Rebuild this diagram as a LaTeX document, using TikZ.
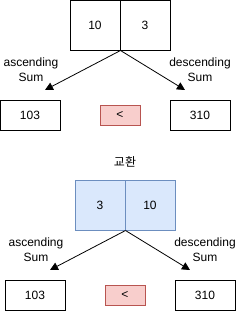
\documentclass[tikz,border=0pt]{standalone}
\usepackage{fontspec}
\setmainfont{Liberation Sans}
\newfontfamily\kofont{Noto Sans CJK KR}
\usetikzlibrary{arrows.meta}
\definecolor{boxblue}{HTML}{DAE8FC}
\definecolor{edgeblue}{HTML}{6C8EBF}
\definecolor{boxred}{HTML}{F8CECC}
\definecolor{edgered}{HTML}{B85450}
\tikzset{
  cell/.style={draw, line width=0.75pt, minimum width=37.5pt, minimum height=37.5pt, inner sep=0pt, font=\small},
  bluecell/.style={cell, fill=boxblue, draw=edgeblue},
  sumbox/.style={draw, line width=0.75pt, minimum width=45pt, minimum height=22.5pt, inner sep=0pt, font=\small},
  cmpbox/.style={draw=edgered, fill=boxred, line width=0.75pt, minimum width=30pt, minimum height=15pt, inner sep=0pt, font=\small},
  lbl/.style={align=center, font=\small, inner sep=0pt},
  arr/.style={-{Triangle[length=6pt,width=6pt]}, line width=0.6pt},
}
\begin{document}
\begin{tikzpicture}[x=0.75pt, y=-0.75pt]
  \useasboundingbox (0,0) rectangle (237,311);
  % before swap
  \node[cell] (left) at (95,25) {10};
  \node[cell] (right) at (145,25) {3};
  \coordinate (ascTip) at (45,90);
  \coordinate (descTip) at (185,90);
  \draw[arr] (left.south east) -- (ascTip);
  \draw[arr] (left.south east) -- (descTip);
  \node[lbl] (ascLbl) at (31,70) {ascending\\Sum};
  \node[lbl] (descLbl) at (200,70) {descending\\Sum};
  \node[sumbox] (ascSum) at (30,115) {103};
  \node[cmpbox] (cmp) at (120,115) {<};
  \node[sumbox] (descSum) at (200,115) {310};
  % swap
  \node[lbl, font=\kofont\small] (swap) at (125,162) {교환};
  % after swap
  \node[bluecell] (left2) at (100,205) {3};
  \node[bluecell] (right2) at (150,205) {10};
  \coordinate (ascTip2) at (50,270);
  \coordinate (descTip2) at (190,270);
  \draw[arr] (left2.south east) -- (ascTip2);
  \draw[arr] (left2.south east) -- (descTip2);
  \node[lbl] (ascLbl2) at (36,250) {ascending\\Sum};
  \node[lbl] (descLbl2) at (205,250) {descending\\Sum};
  \node[sumbox] (ascSum2) at (35,295) {103};
  \node[cmpbox] (cmp2) at (125,295) {<};
  \node[sumbox] (descSum2) at (205,295) {310};
\end{tikzpicture}
\end{document}
